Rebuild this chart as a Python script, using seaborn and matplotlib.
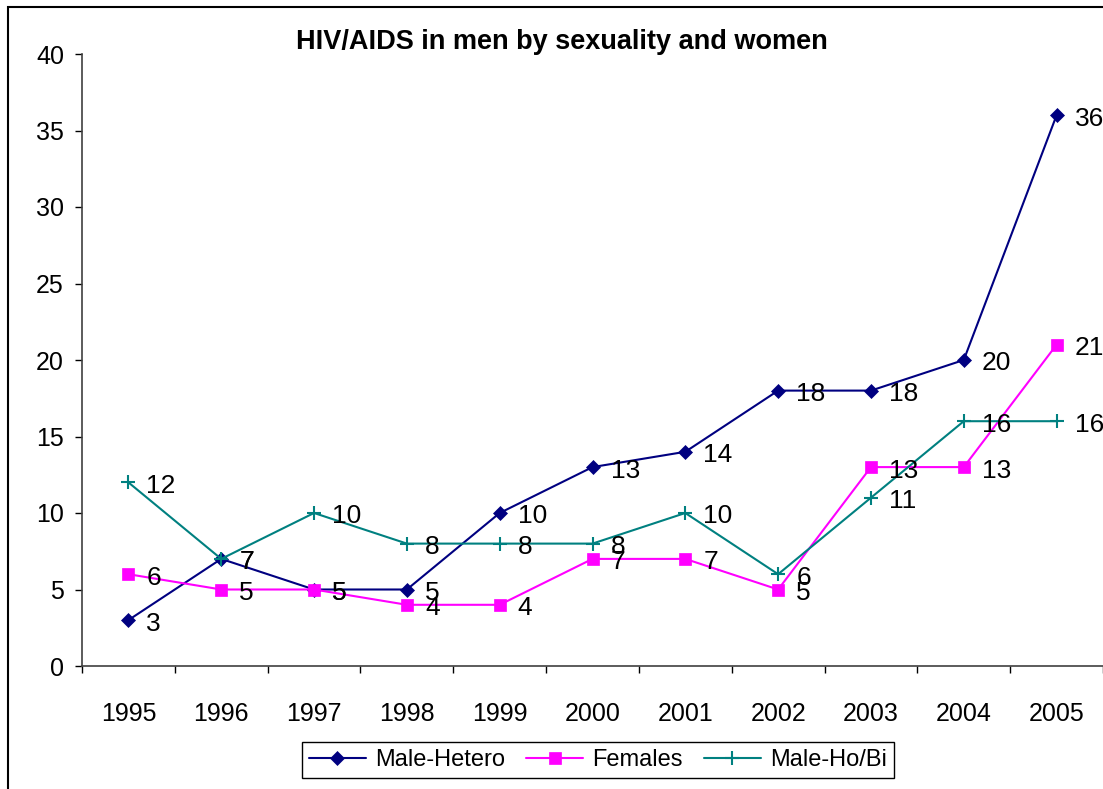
import numpy as np
import pandas as pd
import seaborn as sns
import matplotlib.pyplot as plt
from matplotlib.patches import Rectangle

years = ['1995', '1996', '1997', '1998', '1999', '2000', '2001', '2002', '2003', '2004', '2005']
male_hetero = [3, 7, 5, 5, 10, 13, 14, 18, 18, 20, 36]
females = [6, 5, 5, 4, 4, 7, 7, 5, 13, 13, 21]
male_hobi = [12, 7, 10, 8, 8, 8, 10, 6, 11, 16, 16]

series_names = ['Male-Hetero', 'Females', 'Male-Ho/Bi']
series_values = [male_hetero, females, male_hobi]
colors = ['#000080', '#FF00FF', '#008080']
markers = ['D', 's', '+']
marker_sizes = [7, 8, 10]

sns.set_theme(style='white')
plt.rcParams['font.family'] = ['Liberation Sans', 'DejaVu Sans']
plt.rcParams['text.color'] = 'black'
plt.rcParams['axes.labelcolor'] = 'black'

W, H = 1103, 789
fig = plt.figure(figsize=(W / 100, H / 100), dpi=100)
ax = fig.add_axes([82 / W, 1 - 666 / H, (1103 - 82) / W, (666 - 54) / H])

x = np.arange(len(years))
for name, vals, c, m, ms in zip(series_names, series_values, colors, markers, marker_sizes):
    df = pd.DataFrame({'x': x, 'y': vals})
    sns.lineplot(data=df, x='x', y='y', ax=ax, color=c, marker=m, markersize=ms,
                 markeredgecolor=c, markeredgewidth=1.5 if m == '+' else 0.5,
                 linewidth=1.5, label=name)
    for xi, v in zip(x, vals):
        ax.annotate(str(v), (xi, v), xytext=(13, -2.5), textcoords='offset points',
                    ha='left', va='center', fontsize=19, color='black')

ax.set_xlim(-0.5, len(years) - 0.5)
ax.set_ylim(0, 40)
ax.set_yticks(range(0, 41, 5))
ax.set_xticks(x)
ax.set_xticklabels(years)
ax.set_xticks(np.arange(-0.5, len(years), 1), minor=True)
ax.tick_params(axis='x', which='major', length=0, pad=26, labelsize=18, labelcolor='black')
ax.tick_params(axis='x', which='minor', length=5, width=1, color='black', direction='out', bottom=True)
ax.tick_params(axis='y', length=5, width=1, color='black', direction='out', left=True, pad=8,
               labelsize=18, labelcolor='black')
ax.set_xlabel('')
ax.set_ylabel('')

for s in ['top', 'right']:
    ax.spines[s].set_visible(False)
for s in ['left', 'bottom']:
    ax.spines[s].set_color('#404040')
    ax.spines[s].set_linewidth(1.2)

fig.text(562 / W, 1 - 42 / H, 'HIV/AIDS in men by sexuality and women',
         ha='center', va='center', fontsize=19.5, fontweight='bold', color='black')

leg = ax.legend(loc='center', bbox_to_anchor=(598 / W, 1 - 760 / H),
                bbox_transform=fig.transFigure, ncol=3, fontsize=17,
                frameon=True, fancybox=False, edgecolor='black', framealpha=1,
                handlelength=2.4, handletextpad=0.4, columnspacing=0.9,
                borderpad=0.3, labelcolor='black')
leg.get_frame().set_linewidth(1.0)

# outer chart border
fig.patches.append(Rectangle((8 / W, -0.02), 1.1, 1 - 7 / H + 0.02, transform=fig.transFigure,
                             fill=False, edgecolor='black', linewidth=1.5, clip_on=False))

fig.savefig('out.png', dpi=100)
